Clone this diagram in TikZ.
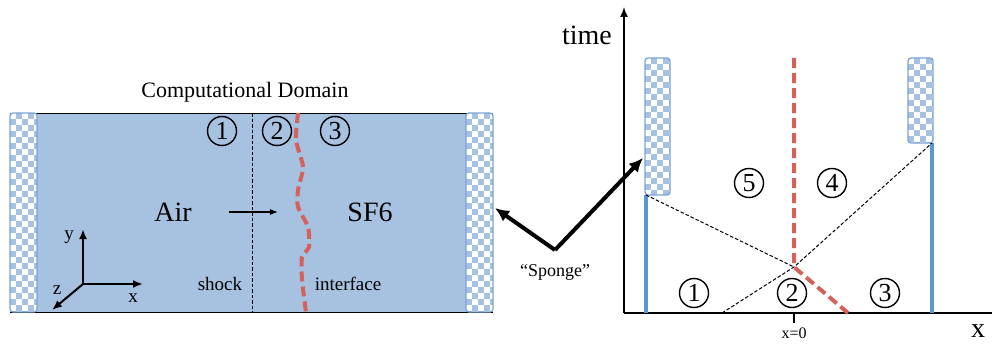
\documentclass[tikz,border=0pt]{standalone}
\usepackage{fontspec}
\setmainfont{Liberation Serif}
\usetikzlibrary{arrows.meta}
\definecolor{domblue}{HTML}{A7C1E0}
\definecolor{cbblue}{HTML}{A7C1E0}
\definecolor{edgeblue}{HTML}{7AA3D6}
\definecolor{wallblue}{HTML}{5E96D1}
\definecolor{ifred}{HTML}{D4625B}
\newcommand\fs[1]{\fontsize{#1}{#1}\selectfont}
\newcommand\checkerbox[4]{%
  \begin{scope}
    \clip[rounded corners=3pt] (#1,#2) rectangle (#3,#4);
    \fill[white] (#1,#2) rectangle (#3,#4);
    \pgfmathtruncatemacro\cbnx{ceil((#3-#1)/6)}
    \pgfmathtruncatemacro\cbny{ceil((#4-#2)/6)}
    \foreach \i in {0,...,\cbnx}{
      \foreach \j in {0,...,\cbny}{
        \pgfmathtruncatemacro\cbp{mod(\i+\j,2)}
        \ifnum\cbp=1 \fill[cbblue] ({#1+6*\i},{#2+6*\j}) rectangle ++(6,6);\fi
      }
    }
  \end{scope}
  \draw[edgeblue, line width=1.3pt, rounded corners=3pt] (#1,#2) rectangle (#3,#4);
}
\tikzset{
  circnum/.style={draw, circle, line width=1.4pt, inner sep=0pt, minimum size=29pt, font=\fs{26}},
  thindash/.style={line width=1pt, dash pattern=on 3.5pt off 2pt},
  reddash/.style={ifred, line width=4pt, dash pattern=on 10pt off 5pt},
  triad/.style={line width=2pt, -{Latex[length=10pt,width=8pt]}},
  sponge/.style={line width=4pt, -{Latex[length=14pt,width=13pt]}},
  axis/.style={line width=1.5pt}
}
\begin{document}
\begin{tikzpicture}[x=1pt,y=-1pt]
\useasboundingbox (0,0) rectangle (992,345);
% ---------- left panel ----------
\node[font=\fs{22}] (title) at (245,92) {Computational Domain};
\fill[domblue] (10,113) rectangle (493,312);
\draw[line width=0.9pt] (10,113) -- (493,113);
\draw[line width=0.9pt] (10,312) -- (493,312);
\checkerbox{10}{113}{37}{312}
\checkerbox{466}{113}{493}{312}
\coordinate (shT) at (252,113);
\coordinate (shB) at (252,312);
\draw[thindash] (shT) -- (shB);
\draw[reddash] plot[smooth, tension=0.4] coordinates {(298,113) (296,140) (303,167) (298,190) (298,207) (308,227) (309,247) (302,257) (302,280) (306,312)};
\node[circnum] (L1) at (222,131) {1};
\node[circnum] (L2) at (277,131) {2};
\node[circnum] (L3) at (335,131) {3};
\node[font=\fs{28}] (air) at (173,212) {Air};
\node[font=\fs{28}] (sf6) at (370,212) {SF6};
\coordinate (mvA) at (229,212);
\coordinate (mvB) at (278,212);
\draw[line width=1.2pt, -{Latex[length=8pt,width=6pt]}] (mvA) -- (mvB);
\node[font=\fs{19}] (shock) at (220,284) {shock};
\node[font=\fs{19}] (iface) at (348,284) {interface};
\coordinate (O) at (83,284);
\coordinate (Y) at (83,229);
\coordinate (X) at (143,284);
\coordinate (Z) at (52,310);
\draw[triad] (O) -- (Y);
\draw[triad] (O) -- (X);
\draw[triad] (O) -- (Z);
\node[font=\fs{19}] (ylab) at (69,237) {y};
\node[font=\fs{19}] (xlab) at (133,298) {x};
\node[font=\fs{19}] (zlab) at (57,290) {z};
% ---------- sponge arrows ----------
\coordinate (sv) at (555,250);
\coordinate (sl) at (495,208);
\coordinate (sr) at (643,158);
\draw[sponge] (sv) -- (sl);
\draw[sponge] (sv) -- (sr);
\node[font=\fs{18}] (spl) at (555,272) {“Sponge”};
% ---------- right panel ----------
\coordinate (ax0) at (624,313);
\coordinate (axT) at (624,7);
\coordinate (axR) at (992,313);
\draw[axis, -{Latex[length=10pt,width=8pt]}] (ax0) -- (axT);
\draw[axis] (ax0) -- (axR);
\node[font=\fs{28}] (time) at (587,35) {time};
\node[font=\fs{28}] (xax) at (978,331) {x};
\checkerbox{645}{58}{670}{195}
\checkerbox{908}{58}{933}{143}
\coordinate (wlT) at (646,195);
\coordinate (wlB) at (646,313);
\coordinate (wrT) at (932,143);
\coordinate (wrB) at (932,313);
\draw[wallblue, line width=3.5pt] (wlT) -- (wlB);
\draw[wallblue, line width=3.5pt] (wrT) -- (wrB);
\coordinate (cross) at (794,267);
\coordinate (rt) at (794,58);
\coordinate (rb) at (848,313);
\coordinate (rs) at (722,313);
\draw[thindash] (wlT) -- (cross);
\draw[thindash] (rs) -- (cross) -- (wrT);
\draw[reddash] (rt) -- (cross) -- (rb);
\coordinate (tk) at (794,323);
\draw[line width=1.2pt] (794,313) -- (tk);
\node[font=\fs{16}, anchor=north] (x0) at (794,324) {x=0};
\node[circnum] (R1) at (694,293) {1};
\node[circnum] (R2) at (792,293) {2};
\node[circnum] (R3) at (885,293) {3};
\node[circnum] (R5) at (749,183) {5};
\node[circnum] (R4) at (832,183) {4};
\end{tikzpicture}
\end{document}
